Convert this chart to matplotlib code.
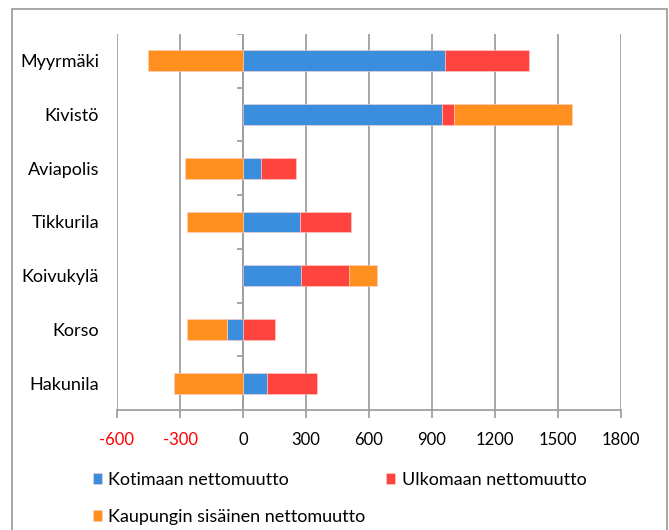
import numpy as np
import matplotlib
matplotlib.use("Agg")
import matplotlib.pyplot as plt
from matplotlib.patches import Rectangle

plt.rcParams['font.family'] = ['Lato', 'DejaVu Sans']

# Data (net migration per area)
areas = ['Myyrmäki', 'Kivistö', 'Aviapolis', 'Tikkurila', 'Koivukylä', 'Korso', 'Hakunila']
kotimaan = [962, 946, 86, 272, 278, -76, 116]
ulkomaan = [398, 60, 164, 244, 229, 153, 236]
kaupungin = [-453, 561, -277, -269, 129, -193, -328]
series_names = ['Kotimaan nettomuutto', 'Ulkomaan nettomuutto', 'Kaupungin sisäinen nettomuutto']
colors = ['#3B8EDE', '#FF433F', '#FF8F1E']
xticks = [-600, -300, 0, 300, 600, 900, 1200, 1500, 1800]

fig = plt.figure(figsize=(6.69, 5.30), dpi=100)
ax = fig.add_axes([117/669, 1 - 410/530, (621 - 117)/669, (410 - 34)/530])

y = np.arange(len(areas))
pos_left = np.zeros(len(areas))
neg_left = np.zeros(len(areas))
bars = []
for vals, name, c in zip([kotimaan, ulkomaan, kaupungin], series_names, colors):
    vals = np.array(vals, dtype=float)
    left = np.where(vals >= 0, pos_left, neg_left)
    b = ax.barh(y, vals, left=left, height=0.39, color=c, edgecolor='#ffd0c8',
                linewidth=0.4, label=name, zorder=3)
    bars.append(b)
    pos_left += np.where(vals >= 0, vals, 0)
    neg_left += np.where(vals < 0, vals, 0)

ax.set_xlim(-600, 1800)
ax.set_ylim(len(areas) - 0.5, -0.5)
ax.set_xticks(xticks)
ax.set_xticklabels([str(v) for v in xticks])
for lbl, v in zip(ax.get_xticklabels(), xticks):
    lbl.set_color('red' if v < 0 else 'black')
ax.set_yticks(y)
ax.set_yticklabels(areas)

ax.xaxis.grid(True, color='#A0A0A0', linewidth=1.3, zorder=0)
ax.set_axisbelow(True)
for s in ['top', 'right', 'left']:
    ax.spines[s].set_visible(False)
ax.spines['bottom'].set_color('#A0A0A0')
ax.spines['bottom'].set_linewidth(1.3)
ax.tick_params(axis='x', direction='out', length=6, width=1.3, color='#A0A0A0',
               pad=10, labelsize=12)
ax.tick_params(axis='y', length=0, pad=13, labelsize=13)

# category axis at zero with boundary ticks
ax.axvline(0, color='#A0A0A0', linewidth=1.3, zorder=1)
ax.hlines(np.arange(len(areas) + 1) - 0.5, -28, 0, color='#A0A0A0', linewidth=1.3, zorder=1)

handles = [bars[0], bars[2], bars[1]]
labels = [series_names[0], series_names[2], series_names[1]]
fig.legend(handles, labels, loc='upper left', bbox_to_anchor=(93/669, 1 - 472/530),
           ncol=2, frameon=False, fontsize=13, handlelength=0.5, handleheight=0.5,
           handletextpad=0.35, labelspacing=1.15, columnspacing=1.15, borderpad=0,
           borderaxespad=0)

fig.patches.append(Rectangle((12/669, -0.05), (667 - 12)/669, 1.05 - 9/530,
                             transform=fig.transFigure, fill=False,
                             edgecolor='#A0A0A0', linewidth=1.3))

fig.savefig('out.png', dpi=100)
